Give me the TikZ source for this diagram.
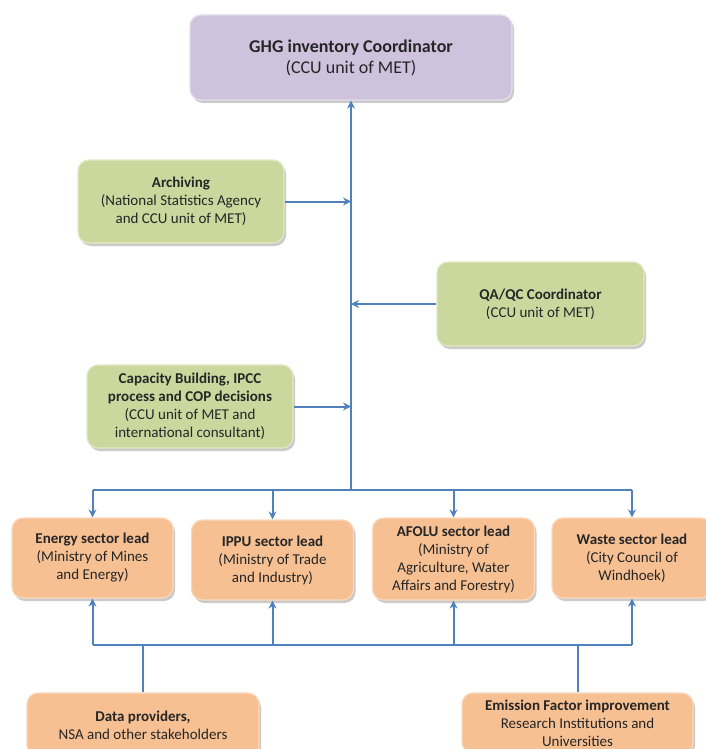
\documentclass[tikz,border=0pt]{standalone}
\usepackage{fontspec}
\setmainfont{Carlito}
\usetikzlibrary{shadows,arrows.meta}
\definecolor{purp}{RGB}{206,194,221}
\definecolor{purpE}{RGB}{228,221,237}
\definecolor{grn}{RGB}{202,216,158}
\definecolor{grnE}{RGB}{224,233,196}
\definecolor{org}{RGB}{247,192,146}
\definecolor{orgE}{RGB}{251,217,188}
\definecolor{lnk}{RGB}{79,129,189}
\tikzset{
  box/.style={rounded corners=11pt, align=center, inner sep=2pt, line width=1.2pt,
    font=\fontsize{15}{18}\selectfont, text=black!85,
    drop shadow={shadow xshift=2pt, shadow yshift=-3pt, opacity=0.35, fill=black!60}},
  pbox/.style={box, fill=purp, draw=purpE, font=\fontsize{18}{21}\selectfont},
  gbox/.style={box, fill=grn, draw=grnE},
  obox/.style={box, fill=org, draw=orgE},
  link/.style={draw=lnk, line width=2pt},
  arr/.style={link, -{Stealth[length=8pt,width=8pt]}}
}
\begin{document}
\begin{tikzpicture}[x=1pt,y=-1pt]
\useasboundingbox (0,0) rectangle (705,749);
\node[pbox, minimum width=322pt, minimum height=85pt] (top) at (351,57.5)
  {\textbf{GHG inventory Coordinator}\\(CCU unit of MET)};
\node[gbox, minimum width=206pt, minimum height=83pt] (arch) at (181,201.5)
  {\textbf{Archiving}\\(National Statistics Agency\\and CCU unit of MET)};
\node[gbox, minimum width=207pt, minimum height=84pt] (qa) at (540.5,304)
  {\textbf{QA/QC Coordinator}\\(CCU unit of MET)};
\node[gbox, minimum width=206pt, minimum height=83pt] (cap) at (190,406.5)
  {\textbf{Capacity Building, IPCC}\\\textbf{process and COP decisions}\\(CCU unit of MET and\\international consultant)};
\node[obox, minimum width=161pt, minimum height=80pt] (energy) at (92.5,558)
  {\textbf{Energy sector lead}\\(Ministry of Mines\\and Energy)};
\node[obox, minimum width=162pt, minimum height=80pt] (ippu) at (272.5,560)
  {\textbf{IPPU sector lead}\\(Ministry of Trade\\and Industry)};
\node[obox, minimum width=162pt, minimum height=82pt] (afolu) at (453.5,559)
  {\textbf{AFOLU sector lead}\\(Ministry of\\Agriculture, Water\\Affairs and Forestry)};
\node[obox, minimum width=160pt, minimum height=80pt] (waste) at (632,558)
  {\textbf{Waste sector lead}\\(City Council of\\Windhoek)};
\node[obox, minimum width=232pt, minimum height=64pt] (data) at (143,725)
  {\textbf{Data providers,}\\NSA and other stakeholders};
\node[obox, minimum width=231pt, minimum height=60pt] (emis) at (577.5,723)
  {\textbf{Emission Factor improvement}\\Research Institutions and\\Universities};
\coordinate (hub) at (351,490);
\coordinate (bot) at (351,645);
% trunk
\draw[arr] (hub) -- (top.south);
\draw[arr] (arch.east) -- (arch.east -| hub);
\draw[arr] (qa.west) -- (qa.west -| hub);
\draw[arr] (cap.east) -- (cap.east -| hub);
% top bus
\draw[link] (energy.north |- hub) -- (waste.north |- hub);
\foreach \n in {energy,ippu,afolu,waste}
  \draw[arr] (\n.north |- hub) -- (\n.north);
% bottom bus
\draw[link] (energy.south |- bot) -- (waste.south |- bot);
\foreach \n in {energy,ippu,afolu,waste}
  \draw[arr] (\n.south |- bot) -- (\n.south);
\draw[link] (data.north) -- (data.north |- bot);
\draw[link] (emis.north) -- (emis.north |- bot);
\end{tikzpicture}
\end{document}
